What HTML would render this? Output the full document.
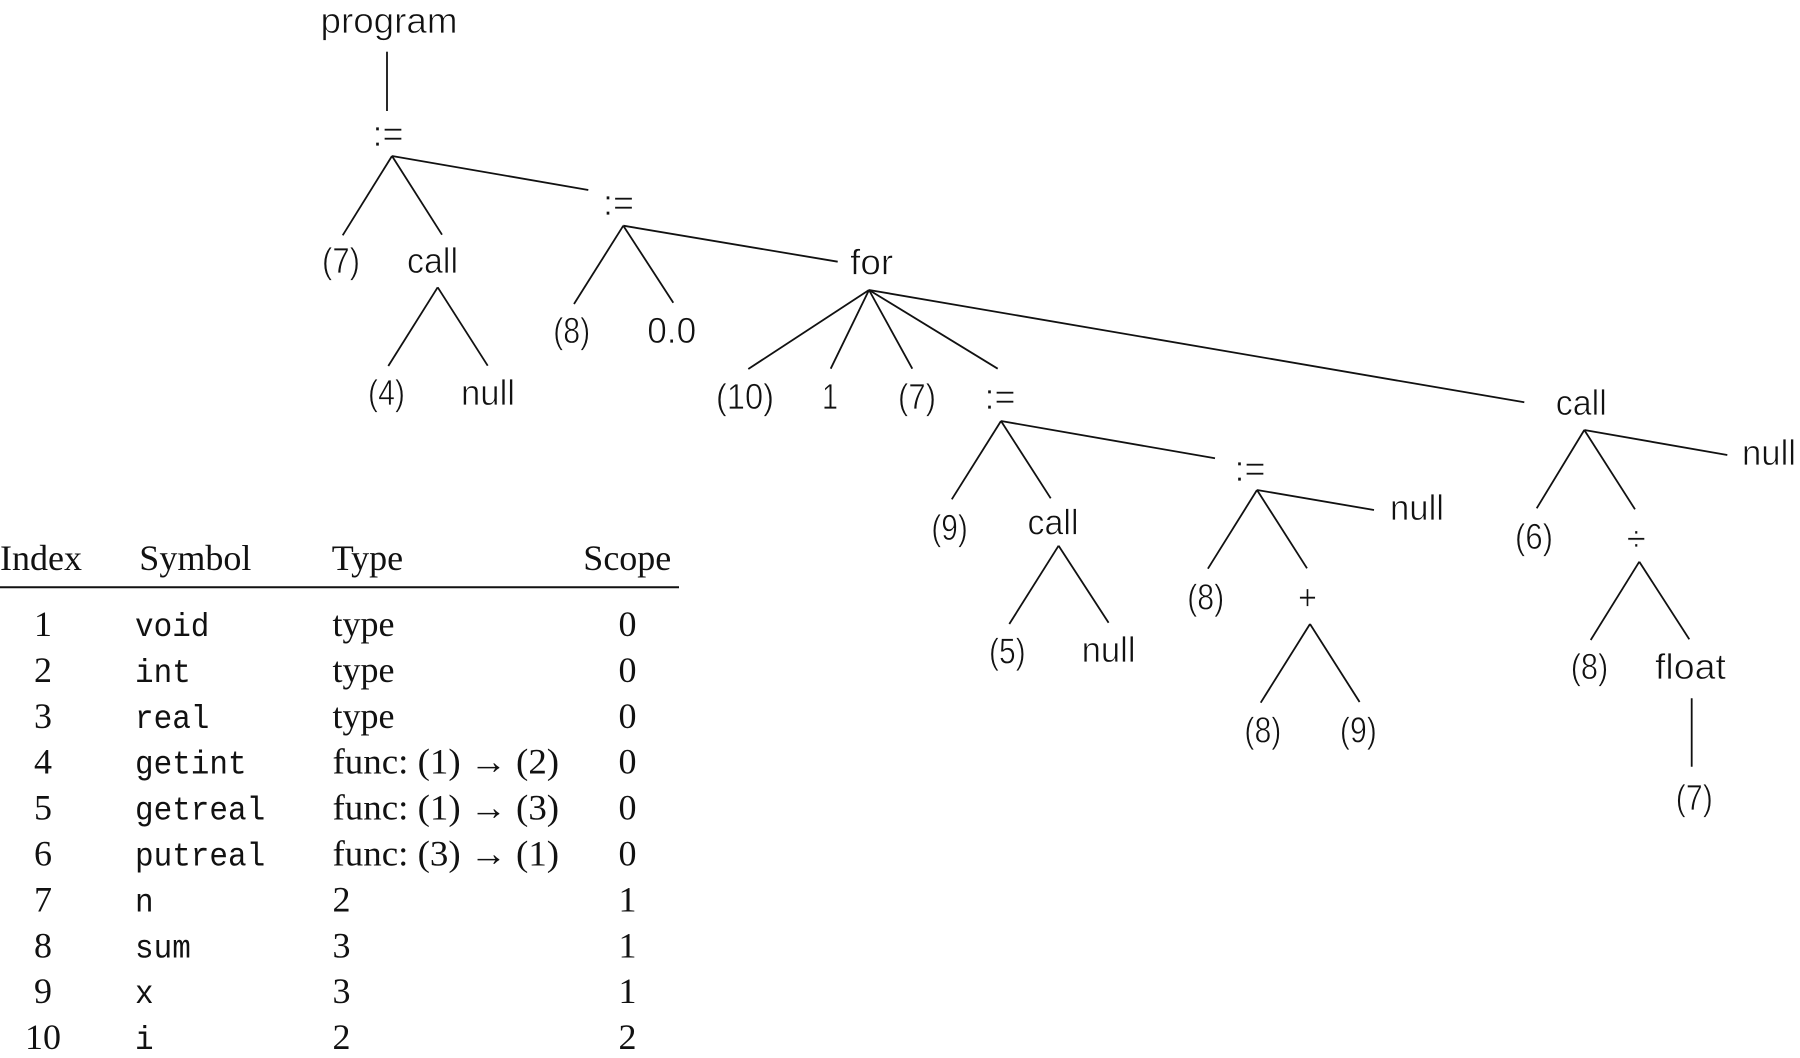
<!DOCTYPE html>
<html><head><meta charset="utf-8"><style>
html,body{margin:0;padding:0;background:#fff;}
svg{display:block;}
.t{font-family:"Liberation Sans",sans-serif;font-size:36px;fill:#111;text-anchor:middle;stroke:#fff;stroke-width:0.7px;}
.s{font-family:"Liberation Serif",serif;font-size:36px;fill:#111;}
.m{font-family:"Liberation Mono",monospace;font-size:33px;fill:#111;}
line{stroke:#111;stroke-width:1.8;}
</style></head><body>
<svg width="1800" height="1058" viewBox="0 0 1800 1058" xmlns="http://www.w3.org/2000/svg">
<!-- tree lines -->
<line x1="387" y1="51.7" x2="387" y2="111"/>
<line x1="392" y1="156" x2="342.7" y2="235.3"/>
<line x1="392" y1="156" x2="442" y2="234.7"/>
<line x1="392" y1="156" x2="588.3" y2="190"/>
<line x1="437.7" y1="287.3" x2="388.3" y2="366"/>
<line x1="437.7" y1="287.3" x2="487.7" y2="365.7"/>
<line x1="623.3" y1="225.7" x2="574" y2="304"/>
<line x1="623.3" y1="225.7" x2="673.3" y2="302.7"/>
<line x1="623.3" y1="225.7" x2="837.7" y2="261.7"/>
<line x1="869" y1="290" x2="748.3" y2="369"/>
<line x1="869" y1="290" x2="830.7" y2="368.7"/>
<line x1="869" y1="290" x2="912.3" y2="368.7"/>
<line x1="869" y1="290" x2="997.7" y2="368.7"/>
<line x1="869" y1="290" x2="1524.3" y2="402.3"/>
<line x1="1001" y1="421" x2="951.8" y2="499.3"/>
<line x1="1001" y1="421" x2="1050.7" y2="498.3"/>
<line x1="1001" y1="421" x2="1215" y2="458.3"/>
<line x1="1058.6" y1="545.7" x2="1009.3" y2="624"/>
<line x1="1058.6" y1="545.7" x2="1108.6" y2="622.7"/>
<line x1="1257" y1="490" x2="1207.9" y2="568.7"/>
<line x1="1257" y1="490" x2="1307" y2="568.3"/>
<line x1="1257" y1="490" x2="1374" y2="510"/>
<line x1="1310" y1="624" x2="1260.7" y2="702.7"/>
<line x1="1310" y1="624" x2="1359.6" y2="702"/>
<line x1="1584.3" y1="430" x2="1536.7" y2="508.3"/>
<line x1="1584.3" y1="430" x2="1635" y2="509.3"/>
<line x1="1584.3" y1="430" x2="1727.3" y2="455"/>
<line x1="1639.3" y1="561.7" x2="1590.7" y2="640"/>
<line x1="1639.3" y1="561.7" x2="1689.3" y2="639.3"/>
<line x1="1691.7" y1="698.3" x2="1691.7" y2="766.7"/>

<!-- tree labels -->
<text class="t" x="389" y="33" textLength="137" lengthAdjust="spacingAndGlyphs">program</text>
<text class="t" x="388" y="146" textLength="31" lengthAdjust="spacingAndGlyphs">:=</text>
<text class="t" x="341" y="273" textLength="38" lengthAdjust="spacingAndGlyphs">(7)</text>
<text class="t" x="432.5" y="273" textLength="51" lengthAdjust="spacingAndGlyphs">call</text>
<text class="t" x="386.5" y="405" textLength="37" lengthAdjust="spacingAndGlyphs">(4)</text>
<text class="t" x="488" y="405" textLength="54" lengthAdjust="spacingAndGlyphs">null</text>
<text class="t" x="618.5" y="215" textLength="31" lengthAdjust="spacingAndGlyphs">:=</text>
<text class="t" x="571.7" y="343" textLength="37" lengthAdjust="spacingAndGlyphs">(8)</text>
<text class="t" x="671.7" y="343" textLength="49" lengthAdjust="spacingAndGlyphs">0.0</text>
<text class="t" x="871.7" y="274.5" textLength="43" lengthAdjust="spacingAndGlyphs">for</text>
<text class="t" x="745" y="409" textLength="58" lengthAdjust="spacingAndGlyphs">(10)</text>
<text class="t" x="830" y="409" textLength="16" lengthAdjust="spacingAndGlyphs">1</text>
<text class="t" x="917" y="409" textLength="38" lengthAdjust="spacingAndGlyphs">(7)</text>
<text class="t" x="1000" y="409" textLength="31" lengthAdjust="spacingAndGlyphs">:=</text>
<text class="t" x="949.6" y="540" textLength="36.5" lengthAdjust="spacingAndGlyphs">(9)</text>
<text class="t" x="1053" y="534.5" textLength="51" lengthAdjust="spacingAndGlyphs">call</text>
<text class="t" x="1007.3" y="663.5" textLength="36.7" lengthAdjust="spacingAndGlyphs">(5)</text>
<text class="t" x="1108.6" y="662" textLength="54" lengthAdjust="spacingAndGlyphs">null</text>
<text class="t" x="1250" y="481" textLength="31" lengthAdjust="spacingAndGlyphs">:=</text>
<text class="t" x="1417" y="520" textLength="54" lengthAdjust="spacingAndGlyphs">null</text>
<text class="t" x="1205.7" y="609.5" textLength="37" lengthAdjust="spacingAndGlyphs">(8)</text>
<text class="t" x="1307.5" y="609.5" textLength="19" lengthAdjust="spacingAndGlyphs">+</text>
<text class="t" x="1262.9" y="742.5" textLength="37" lengthAdjust="spacingAndGlyphs">(8)</text>
<text class="t" x="1358.4" y="742.5" textLength="37" lengthAdjust="spacingAndGlyphs">(9)</text>
<text class="t" x="1581.3" y="415" textLength="51" lengthAdjust="spacingAndGlyphs">call</text>
<text class="t" x="1769" y="465" textLength="54" lengthAdjust="spacingAndGlyphs">null</text>
<text class="t" x="1534" y="549" textLength="38" lengthAdjust="spacingAndGlyphs">(6)</text>
<text class="t" x="1636.3" y="551" textLength="19" lengthAdjust="spacingAndGlyphs">÷</text>
<text class="t" x="1589.5" y="679" textLength="37.6" lengthAdjust="spacingAndGlyphs">(8)</text>
<text class="t" x="1690.5" y="679" textLength="71" lengthAdjust="spacingAndGlyphs">float</text>
<text class="t" x="1694.3" y="810" textLength="37" lengthAdjust="spacingAndGlyphs">(7)</text>

<!-- table header -->
<text class="s" x="0" y="570">Index</text>
<text class="s" x="139.3" y="570">Symbol</text>
<text class="s" x="331.7" y="570">Type</text>
<text class="s" x="583.3" y="570">Scope</text>
<line x1="0" y1="587.3" x2="679" y2="587.3" style="stroke-width:2"/>

<!-- rows -->
<g class="s" text-anchor="middle">
<text x="43" y="636">1</text>
<text x="43" y="681.9">2</text>
<text x="43" y="727.8">3</text>
<text x="43" y="773.7">4</text>
<text x="43" y="819.6">5</text>
<text x="43" y="865.5">6</text>
<text x="43" y="911.4">7</text>
<text x="43" y="957.3">8</text>
<text x="43" y="1003.2">9</text>
<text x="43" y="1049.1">10</text>
<text x="627.5" y="636">0</text>
<text x="627.5" y="681.9">0</text>
<text x="627.5" y="727.8">0</text>
<text x="627.5" y="773.7">0</text>
<text x="627.5" y="819.6">0</text>
<text x="627.5" y="865.5">0</text>
<text x="627.5" y="911.4">1</text>
<text x="627.5" y="957.3">1</text>
<text x="627.5" y="1003.2">1</text>
<text x="627.5" y="1049.1">2</text>
</g>
<g class="m">
<text x="135" y="636" textLength="74.4" lengthAdjust="spacingAndGlyphs">void</text>
<text x="135" y="681.9" textLength="55.8" lengthAdjust="spacingAndGlyphs">int</text>
<text x="135" y="727.8" textLength="74.4" lengthAdjust="spacingAndGlyphs">real</text>
<text x="135" y="773.7" textLength="111.6" lengthAdjust="spacingAndGlyphs">getint</text>
<text x="135" y="819.6" textLength="130.2" lengthAdjust="spacingAndGlyphs">getreal</text>
<text x="135" y="865.5" textLength="130.2" lengthAdjust="spacingAndGlyphs">putreal</text>
<text x="135" y="911.4" textLength="18.6" lengthAdjust="spacingAndGlyphs">n</text>
<text x="135" y="957.3" textLength="55.8" lengthAdjust="spacingAndGlyphs">sum</text>
<text x="135" y="1003.2" textLength="18.6" lengthAdjust="spacingAndGlyphs">x</text>
<text x="135" y="1049.1" textLength="18.6" lengthAdjust="spacingAndGlyphs">i</text>
</g>
<g class="s">
<text x="332.5" y="636">type</text>
<text x="332.5" y="681.9">type</text>
<text x="332.5" y="727.8">type</text>
<text x="332.5" y="773.7" textLength="226.6" lengthAdjust="spacingAndGlyphs">func: (1) → (2)</text>
<text x="332.5" y="819.6" textLength="226.6" lengthAdjust="spacingAndGlyphs">func: (1) → (3)</text>
<text x="332.5" y="865.5" textLength="226.6" lengthAdjust="spacingAndGlyphs">func: (3) → (1)</text>
<text x="332.5" y="911.4">2</text>
<text x="332.5" y="957.3">3</text>
<text x="332.5" y="1003.2">3</text>
<text x="332.5" y="1049.1">2</text>
</g>
</svg>
</body></html>
